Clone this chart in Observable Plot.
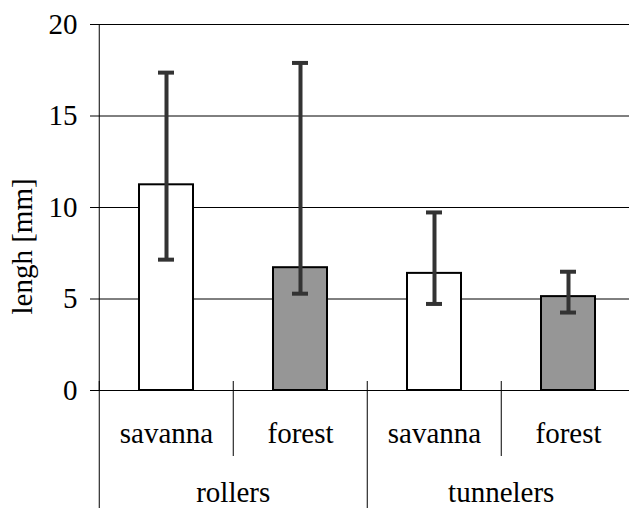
<!DOCTYPE html>
<html>
<head>
<meta charset="utf-8">
<script src="https://cdn.jsdelivr.net/npm/d3@7"></script>
<script src="https://cdn.jsdelivr.net/npm/@observablehq/plot@0.6"></script>
<style>
  html, body { margin: 0; padding: 0; background: #fff; overflow: hidden; }
  #chart svg, #chart svg text { font-family: "Liberation Serif", Tinos, "DejaVu Serif", "Noto Serif", serif !important; }
</style>
</head>
<body>
<div id="chart"></div>
<script>
// Beetle length by group and habitat (mean with range bars)
const groups   = ["rollers", "rollers", "tunnelers", "tunnelers"];
const habitats = ["savanna", "forest", "savanna", "forest"];
const means    = [11.24, 6.71, 6.40, 5.13];
const lower    = [7.15, 5.29, 4.73, 4.26];
const upper    = [17.37, 17.9, 9.73, 6.49];
const yTicks   = [0, 5, 10, 15, 20];

const rows = groups.map((g, i) => ({
  key: g + " " + habitats[i],
  group: g,
  habitat: habitats[i],
  mean: means[i],
  lo: lower[i],
  hi: upper[i]
}));
const keys = rows.map(d => d.key);
const firstOfGroup = rows.filter((d, i) => i === 0 || groups[i - 1] !== d.group).map(d => d.key);
const secondOfGroup = rows.filter((d, i) => i > 0 && groups[i - 1] === d.group).map(d => d.key);

const W = 629, H = 508;
const mL = 98, mR = -7, mT = 24, mB = 118;
const half = (W - mR - mL) / keys.length / 2; // half a band step
const font = "Liberation Serif, Tinos, DejaVu Serif, serif";
const fs = 29;

const plot = Plot.plot({
  width: W,
  height: H,
  marginLeft: mL,
  marginRight: mR,
  marginTop: mT,
  marginBottom: mB,
  style: { fontSize: fs + "px", color: "#000", background: "#fff" },
  x: { domain: keys, paddingInner: 0.6, paddingOuter: 0.3, axis: null },
  y: { domain: [0, 20], axis: null },
  color: { domain: ["savanna", "forest"], range: ["#ffffff", "#969696"] },
  marks: [
    // horizontal grid
    Plot.ruleY(yTicks.filter(v => v > 0), { stroke: "#000", strokeWidth: 1 }),
    // y axis line
    Plot.ruleX([keys[0]], { dx: -half, stroke: "#000" }),
    Plot.axisY({ ticks: yTicks, tickSize: 8, tickPadding: 13, fontSize: fs, fontFamily: font, label: null, tickFormat: d => d }),
    // bars
    Plot.barY(rows, { x: "key", y: "mean", fill: "habitat", stroke: "#000", strokeWidth: 2 }),
    // error bars
    Plot.ruleX(rows, { x: "key", y1: "lo", y2: "hi", stroke: "#333", strokeWidth: 4 }),
    Plot.tickY(rows, { x: "key", y: "hi", stroke: "#333", strokeWidth: 4, insetLeft: 19, insetRight: 19 }),
    Plot.tickY(rows, { x: "key", y: "lo", stroke: "#333", strokeWidth: 4, insetLeft: 19, insetRight: 19 }),
    // baseline
    Plot.ruleY([0], { stroke: "#000", strokeWidth: 1 }),
    // category dividers
    Plot.axisX({ ticks: secondOfGroup, tickSize: 75, dx: -half, dy: -9, label: null, tickFormat: () => "", stroke: "#000" }),
    Plot.axisX({ ticks: firstOfGroup, tickSize: 127, dx: -half, dy: -9, label: null, tickFormat: () => "", stroke: "#000" }),
    // habitat labels
    Plot.axisX({ ticks: keys, tickSize: 0, tickPadding: 32, fontSize: fs, fontFamily: font, label: null,
      tickFormat: k => rows.find(d => d.key === k).habitat }),
    // group labels, centred on each group
    Plot.axisX({ ticks: secondOfGroup, tickSize: 0, tickPadding: 91, dx: -half, fontSize: fs, fontFamily: font, label: null,
      tickFormat: k => rows.find(d => d.key === k).group }),
    // y axis title
    Plot.text(["lengh [mm]"], { frameAnchor: "left", rotate: -90, dx: -76, dy: 107, fontSize: fs, fontFamily: font, fill: "#000" })
  ]
});

document.getElementById("chart").appendChild(plot);
</script>
</body>
</html>
